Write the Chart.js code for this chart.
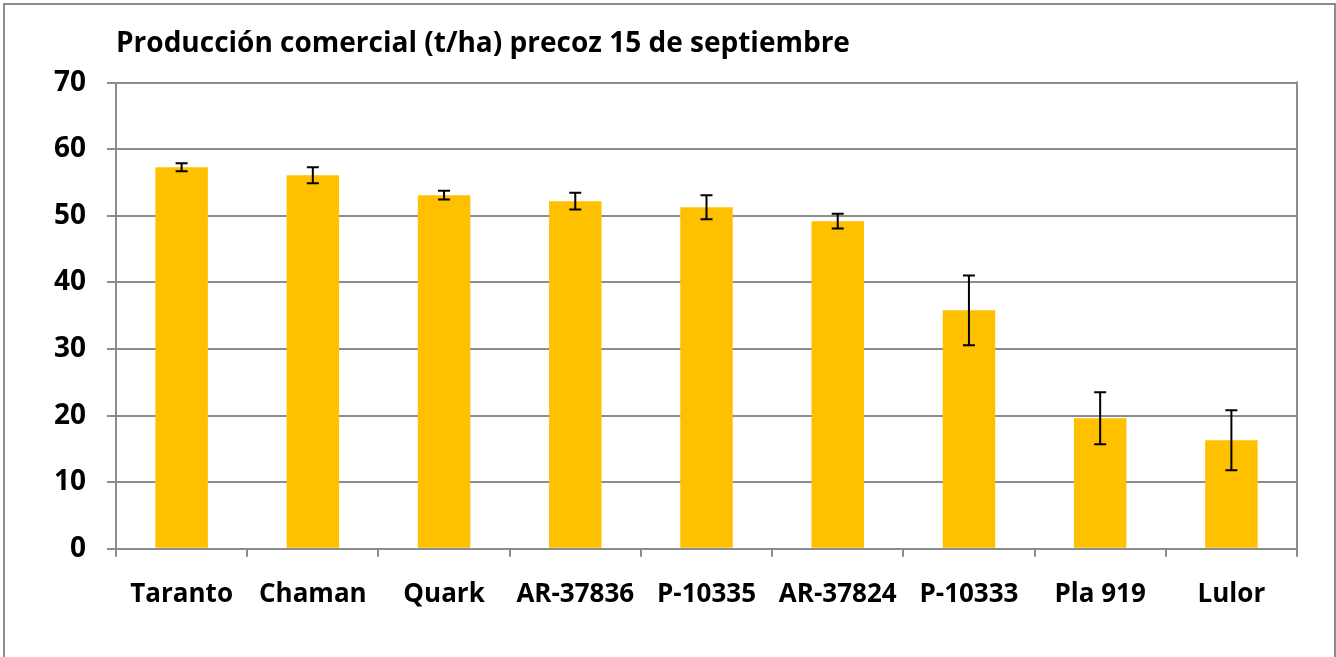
<!DOCTYPE html>
<html>
<head>
<meta charset="utf-8">
<script src="https://cdn.jsdelivr.net/npm/chart.js@4/dist/chart.umd.min.js"></script>
<style>
  html, body { margin: 0; padding: 0; background: #fff; overflow: hidden; }
  #wrap { position: relative; width: 1336px; height: 657px; }
  #frame { position: absolute; left: 3px; top: 3px; width: 1329px; height: 700px; border: 2px solid #8c8c8c; pointer-events: none; }
</style>
</head>
<body>
<div id="wrap">
  <canvas id="barChart" width="1336" height="657"></canvas>
  <div id="frame"></div>
</div>
<script>
const variedades = ['Taranto', 'Chaman', 'Quark', 'AR-37836', 'P-10335', 'AR-37824', 'P-10333', 'Pla 919', 'Lulor'];
const produccion = [57.3, 56.1, 53.1, 52.2, 51.3, 49.2, 35.8, 19.6, 16.3];
const errores = [0.6, 1.2, 0.65, 1.25, 1.8, 1.1, 5.25, 3.9, 4.5];
const ticksY = [0, 10, 20, 30, 40, 50, 60, 70];

const gris = '#8c8c8c';
const fuente = "'Open Sans', sans-serif";

// barras de error dibujadas con las escalas del grafico
const errorBars = {
    id: 'errorBars',
    afterDatasetsDraw(chart) {
        const ctx = chart.ctx;
        const y = chart.scales.y;
        const meta = chart.getDatasetMeta(0);
        ctx.save();
        ctx.strokeStyle = '#000';
        ctx.lineWidth = 2;
        meta.data.forEach((bar, i) => {
            const v = produccion[i], e = errores[i];
            const top = y.getPixelForValue(v + e);
            const bot = y.getPixelForValue(v - e);
            ctx.beginPath();
            ctx.moveTo(bar.x, top); ctx.lineTo(bar.x, bot);
            ctx.moveTo(bar.x - 6, top); ctx.lineTo(bar.x + 6, top);
            ctx.moveTo(bar.x - 6, bot); ctx.lineTo(bar.x + 6, bot);
            ctx.stroke();
        });
        ctx.restore();
    }
};

// borde derecho del area de trazado
const plotBorder = {
    id: 'plotBorder',
    afterDraw(chart) {
        const a = chart.chartArea;
        const ctx = chart.ctx;
        ctx.save();
        ctx.strokeStyle = gris;
        ctx.lineWidth = 2;
        ctx.beginPath();
        ctx.moveTo(a.right, a.top - 1);
        ctx.lineTo(a.right, a.bottom);
        ctx.stroke();
        ctx.restore();
    }
};

const ctx = document.getElementById('barChart').getContext('2d');
const myChart = new Chart(ctx, {
    type: 'bar',
    data: {
        labels: variedades,
        datasets: [{
            label: 'Producción comercial (t/ha)',
            data: produccion,
            backgroundColor: '#FFC000',
            borderWidth: 0,
            categoryPercentage: 1,
            barPercentage: 0.4
        }]
    },
    options: {
        responsive: false,
        animation: false,
        layout: {
            padding: { top: 16, right: 39, bottom: 25, left: 0 }
        },
        plugins: {
            legend: { display: false },
            tooltip: { enabled: false },
            title: {
                display: true,
                text: 'Producción comercial (t/ha) precoz 15 de septiembre',
                align: 'start',
                fullSize: false,
                color: '#000',
                font: { family: fuente, size: 28, weight: 'bold' },
                padding: { top: 11, bottom: 22 }
            }
        },
        scales: {
            x: {
                grid: { offset: true, drawOnChartArea: false, drawTicks: true, tickLength: 8, color: gris, lineWidth: 2 },
                border: { display: true, color: gris, width: 2 },
                ticks: { color: '#000', padding: 22, maxRotation: 0, font: { family: fuente, size: 26, weight: 'bold' } }
            },
            y: {
                min: 0,
                max: 70,
                afterBuildTicks(scale) { scale.ticks = ticksY.map(v => ({ value: v })); },
                afterFit(scale) { scale.width = 116; },
                grid: { color: gris, lineWidth: 2, tickLength: 9 },
                border: { display: true, color: gris, width: 2 },
                ticks: { color: '#000', padding: 21, font: { family: fuente, size: 28, weight: 'bold' } }
            }
        }
    },
    plugins: [errorBars, plotBorder]
});
</script>
</body>
</html>
